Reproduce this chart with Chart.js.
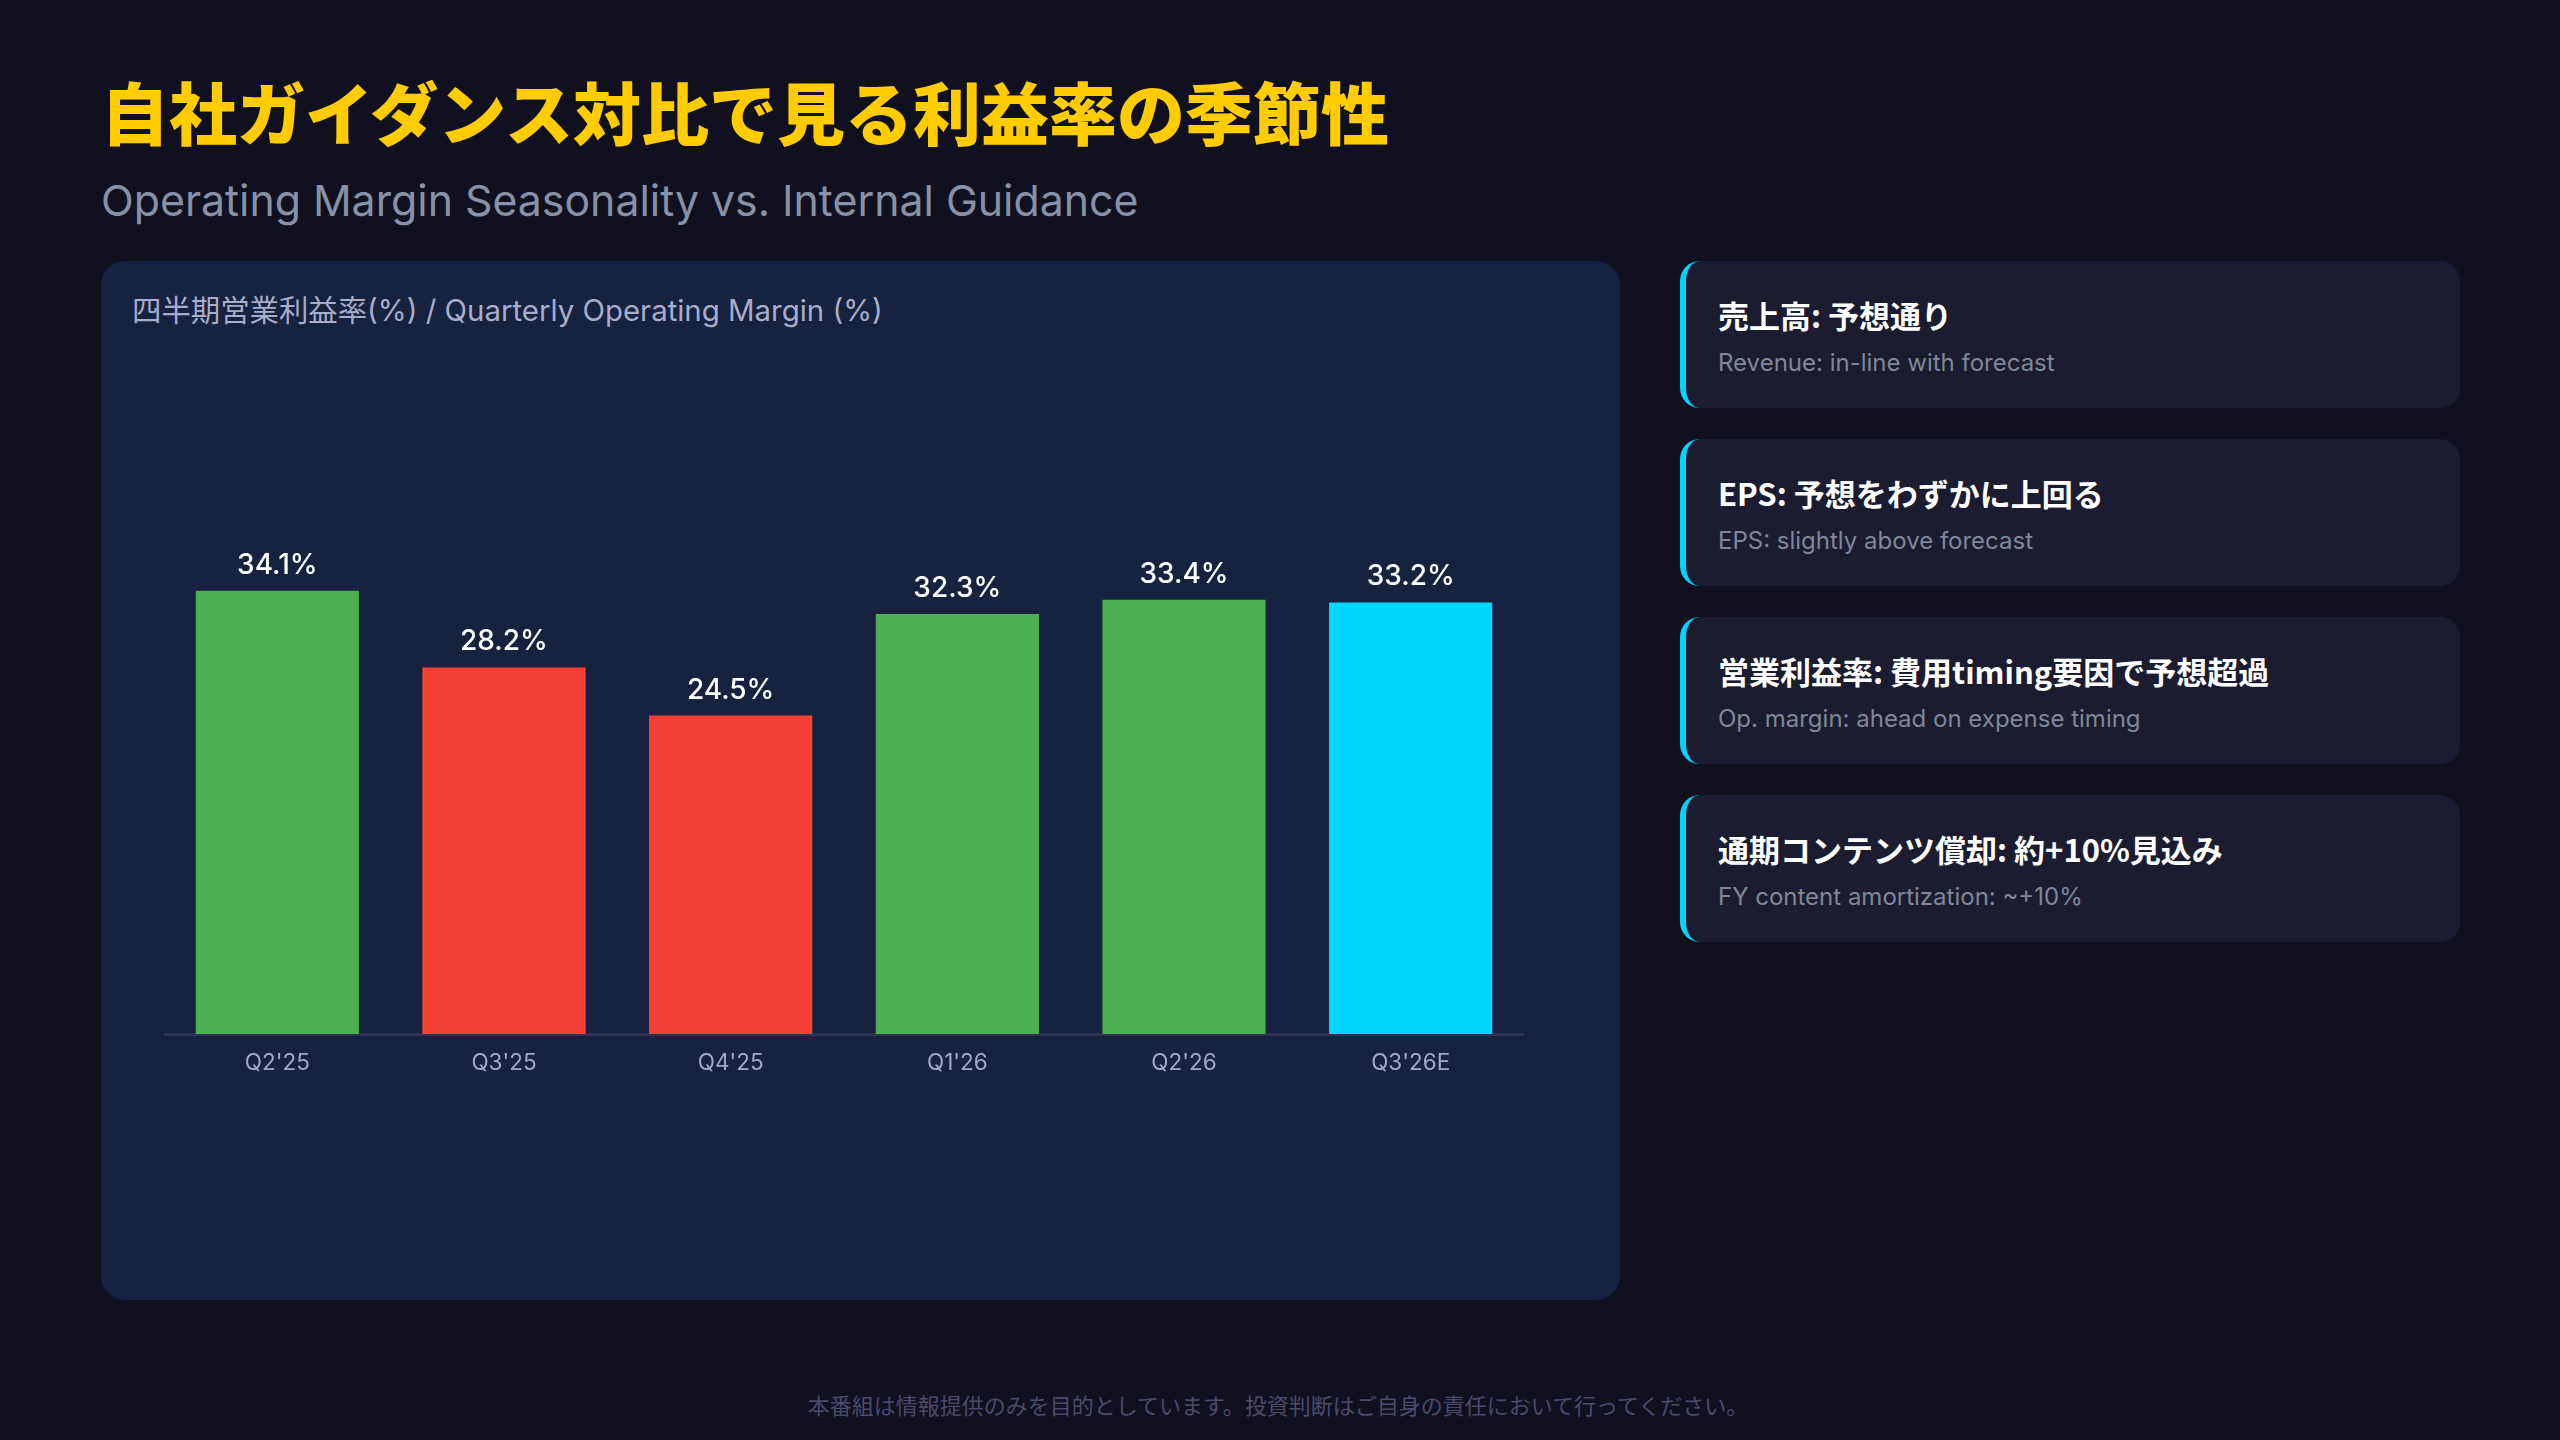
<!DOCTYPE html>
<html lang="ja">
<head>
<meta charset="utf-8">
<title>自社ガイダンス対比で見る利益率の季節性</title>
<script src="https://cdn.jsdelivr.net/npm/chart.js@4.4.1/dist/chart.umd.min.js"></script>
<style>
  html, body { margin: 0; padding: 0; }
  body {
    width: 2560px; height: 1440px; position: relative; overflow: hidden;
    background: #10101f;
    font-family: "Inter", "Noto Sans CJK JP", sans-serif;
  }
  .title {
    position: absolute; left: 101px; top: 63px; margin: 0;
    font-family: "Noto Sans CJK JP", sans-serif; font-weight: 900;
    font-size: 68px; line-height: 96px; color: #ffcc00; letter-spacing: 0;
  }
  .subtitle {
    position: absolute; left: 101px; top: 173px;
    font-size: 42.8px; line-height: 56px; color: #8891a5;
  }
  .panel {
    position: absolute; left: 101px; top: 261px; width: 1519px; height: 1039px;
    background: #172140; border-radius: 24px;
  }
  .panel-title {
    position: absolute; left: 31px; top: 32px;
    font-size: 29.4px; line-height: 36px; color: #a9accb;
  }
  .chart-box {
    position: absolute; left: 164px; top: 400px; width: 1360px; height: 720px;
  }
  .card {
    position: absolute; left: 1680px; width: 780px; height: 147px;
    background: #1b1c30; border-radius: 20px; border-left: 6px solid #00d4ff;
    box-sizing: border-box;
  }
  .card .head {
    position: absolute; left: 32px; top: 32px;
    font-family: "Noto Sans CJK JP", "Inter", sans-serif; font-weight: 700;
    font-size: 31px; line-height: 44px; color: #ffffff;
  }
  .card .sub {
    position: absolute; left: 32px; top: 86px;
    font-size: 24px; line-height: 32px; color: #7f8798;
  }
  .footer {
    position: absolute; left: 0; width: 2556px; top: 1389px; text-align: center;
    font-family: "Noto Sans CJK JP", sans-serif;
    font-size: 22px; line-height: 30px; color: #4b4a6b;
  }
</style>
</head>
<body>

<h1 class="title">自社ガイダンス対比で見る利益率の季節性</h1>
<div class="subtitle">Operating Margin Seasonality vs. Internal Guidance</div>

<div class="panel">
  <div class="panel-title">四半期営業利益率(%) / Quarterly Operating Margin (%)</div>
</div>
<div class="chart-box"><canvas id="marginChart"></canvas></div>

<div class="card" style="top:261px"><div class="head">売上高: 予想通り</div><div class="sub">Revenue: in-line with forecast</div></div>
<div class="card" style="top:439px"><div class="head">EPS: 予想をわずかに上回る</div><div class="sub">EPS: slightly above forecast</div></div>
<div class="card" style="top:617px"><div class="head">営業利益率: 費用timing要因で予想超過</div><div class="sub">Op. margin: ahead on expense timing</div></div>
<div class="card" style="top:795px"><div class="head">通期コンテンツ償却: 約+10%見込み</div><div class="sub">FY content amortization: ~+10%</div></div>

<div class="footer">本番組は情報提供のみを目的としています。投資判断はご自身の責任において行ってください。</div>

<script>
// データ
const quarters = ["Q2'25", "Q3'25", "Q4'25", "Q1'26", "Q2'26", "Q3'26E"];
const margins = [34.1, 28.2, 24.5, 32.3, 33.4, 33.2];
const status = ['high', 'low', 'low', 'high', 'high', 'estimate'];

// 色
const statusColors = { high: '#4caf50', low: '#f44336', estimate: '#00d4ff' };

// バーの上に値を表示
const valueLabels = {
    id: 'valueLabels',
    afterDatasetsDraw(chart) {
        const ctx = chart.ctx;
        const meta = chart.getDatasetMeta(0);
        ctx.save();
        ctx.font = '500 28px Inter, "Noto Sans CJK JP", sans-serif';
        ctx.fillStyle = '#ffffff';
        ctx.textAlign = 'center';
        ctx.textBaseline = 'alphabetic';
        meta.data.forEach((bar, i) => {
            ctx.fillText(margins[i].toFixed(1) + '%', bar.x, bar.y - 17);
        });
        ctx.restore();
    }
};

function createChart() {
    const ctx = document.getElementById('marginChart').getContext('2d');
    new Chart(ctx, {
        type: 'bar',
        data: {
            labels: quarters,
            datasets: [{
                label: '営業利益率',
                data: margins,
                backgroundColor: status.map(s => statusColors[s]),
                borderWidth: 0,
                categoryPercentage: 0.8,
                barPercentage: 0.9
            }]
        },
        options: {
            responsive: true,
            maintainAspectRatio: false,
            animation: false,
            layout: { padding: { top: 114, bottom: 27, left: 0, right: 0 } },
            plugins: {
                legend: { display: false },
                tooltip: { enabled: false }
            },
            scales: {
                x: {
                    grid: { display: false, drawTicks: false },
                    border: { display: true, color: '#2f3253', width: 3 },
                    ticks: {
                        color: '#a3a8c8',
                        font: { size: 22.5, family: 'Inter, "Noto Sans CJK JP", sans-serif' },
                        padding: 16
                    }
                },
                y: {
                    display: false,
                    min: 0,
                    max: 40
                }
            }
        },
        plugins: [valueLabels]
    });
}

window.onload = createChart;
</script>
</body>
</html>
